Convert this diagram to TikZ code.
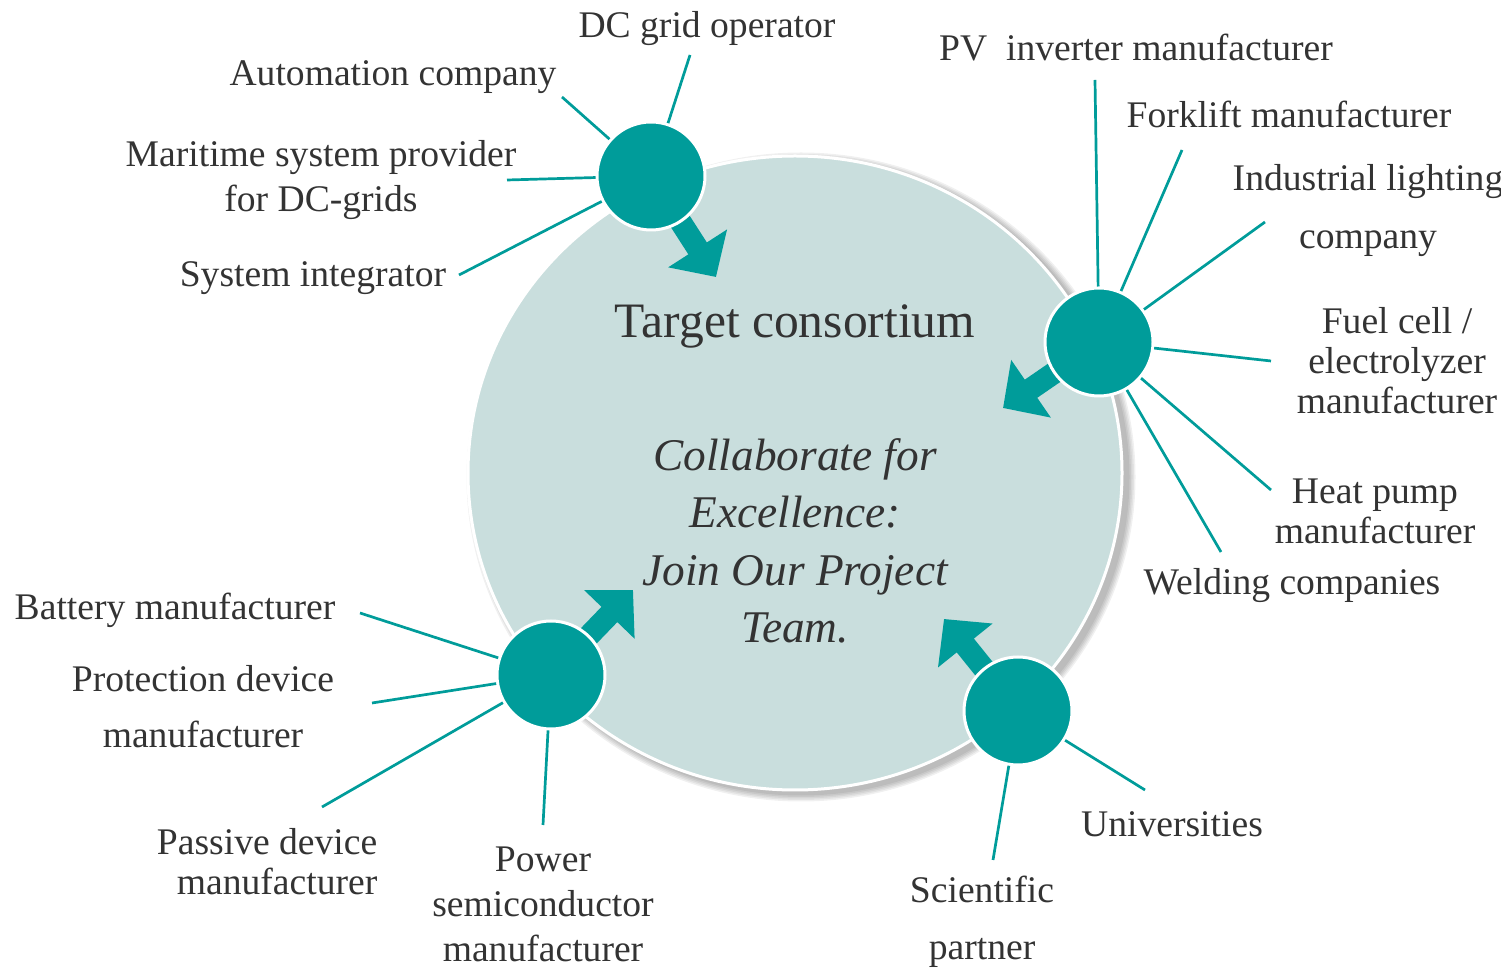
\documentclass[tikz,border=0pt]{standalone}
\usepackage{fontspec}
\setmainfont{Liberation Serif}
\usetikzlibrary{arrows.meta,shapes.geometric}

\definecolor{petrol}{RGB}{0,156,154}
\definecolor{mist}{RGB}{201,222,221}
\definecolor{ink}{RGB}{51,51,51}

\tikzset{
  hub/.style={circle,fill=petrol,draw=white,line width=.3mm,minimum size=10.8mm,inner sep=0pt},
  spoke/.style={draw=petrol,line width=.27mm},
  push/.style={draw=petrol,line width=2.2mm,-{Triangle[length=3.4mm,width=6.8mm]}},
  lbl/.style={text=ink,inner sep=0pt,align=center,font=\fontsize{10.7}{#1}\selectfont},
  lbl/.default=12.8,
}

\begin{document}
\begin{tikzpicture}

        \useasboundingbox (0,0) rectangle (15.01,-9.68);

        % soft shadow under the big disc
        \foreach \k in {1,...,5}
          \fill[black,opacity=.06] (8.01,-4.77) ellipse ({3.27+.015*\k} and {3.17+.015*\k});
        \node (core) at (7.95,-4.73) [ellipse,fill=mist,draw=white,line width=.3mm,
          minimum width=6.54cm,minimum height=6.34cm,inner sep=0pt] {};

        \node (target) at (7.95,-3.26) [text=ink,font=\fontsize{14.1}{17}\selectfont] {Target consortium};
        \node (motto) at (7.95,-5.41) [text=ink,align=center,font=\itshape\fontsize{12.9}{16.3}\selectfont]
          {Collaborate for\\Excellence:\\Join Our Project\\Team.};

        % hub centres and arrow tips
        \coordinate (a) at (6.51,-1.76);
        \coordinate (b) at (10.99,-3.42);
        \coordinate (c) at (5.51,-6.75);
        \coordinate (d) at (10.18,-7.11);
        \coordinate (tipA) at (7.16,-2.77);
        \coordinate (tipB) at (10.03,-4.08);
        \coordinate (tipC) at (6.33,-5.90);
        \coordinate (tipD) at (9.44,-6.19);

        \draw[push] (a) -- (tipA);
        \draw[push] (b) -- (tipB);
        \draw[push] (c) -- (tipC);
        \draw[push] (d) -- (tipD);

        \node[hub] (hubA) at (a) {};
        \node[hub] (hubB) at (b) {};
        \node[hub] (hubC) at (c) {};
        \node[hub] (hubD) at (d) {};

        % free ends of the spokes
        \coordinate (dcEnd) at (6.90,-0.55);
        \coordinate (autoEnd) at (5.62,-0.97);
        \coordinate (mariEnd) at (5.07,-1.80);
        \coordinate (integEnd) at (4.59,-2.75);
        \coordinate (pvEnd) at (10.95,-0.80);
        \coordinate (forkEnd) at (11.82,-1.50);
        \coordinate (lightEnd) at (12.65,-2.22);
        \coordinate (fuelEnd) at (12.71,-3.61);
        \coordinate (heatEnd) at (12.71,-4.90);
        \coordinate (weldEnd) at (12.21,-5.52);
        \coordinate (battEnd) at (3.60,-6.13);
        \coordinate (protEnd) at (3.72,-7.03);
        \coordinate (passEnd) at (3.22,-8.07);
        \coordinate (semiEnd) at (5.43,-8.25);
        \coordinate (uniEnd) at (11.45,-7.90);
        \coordinate (sciEnd) at (9.93,-8.60);

        \begin{scope}[every path/.style={spoke}]
          \draw (hubA) -- (dcEnd);
          \draw (hubA) -- (autoEnd);
          \draw (hubA) -- (mariEnd);
          \draw (hubA) -- (integEnd);
          \draw (hubB) -- (pvEnd);
          \draw (hubB) -- (forkEnd);
          \draw (hubB) -- (lightEnd);
          \draw (hubB) -- (fuelEnd);
          \draw (hubB) -- (heatEnd);
          \draw (hubB) -- (weldEnd);
          \draw (hubC) -- (battEnd);
          \draw (hubC) -- (protEnd);
          \draw (hubC) -- (passEnd);
          \draw (hubC) -- (semiEnd);
          \draw (hubD) -- (uniEnd);
          \draw (hubD) -- (sciEnd);
        \end{scope}

        \node[lbl] (dcgrid) at (7.07,-0.29) {DC grid operator};
        \node[lbl] (automation) at (3.93,-0.77) {Automation company};
        \node[lbl=12.8] (maritime) at (3.21,-1.80) {Maritime system provider\\for DC-grids};
        \node[lbl] (integrator) at (3.13,-2.78) {System integrator};
        \node[lbl] (pvinverter) at (11.36,-0.48) {PV\enspace inverter manufacturer};
        \node[lbl] (forklift) at (12.89,-1.14) {Forklift manufacturer};
        \node[lbl=16.5] (lighting) at (13.68,-2.11) {Industrial lighting\\company};
        \node[lbl=11.4] (fuelcell) at (13.97,-3.61) {Fuel cell /\\electrolyzer\\manufacturer};
        \node[lbl=11.4] (heatpump) at (13.75,-5.11) {Heat pump\\manufacturer};
        \node[lbl] (welding) at (12.92,-5.86) {Welding companies};
        \node[lbl] (battery) at (1.75,-6.10) {Battery manufacturer};
        \node[lbl=16] (protection) at (2.03,-7.07) {Protection device\\manufacturer};
        \node[lbl=11.4,anchor=east,align=right] (passive) at (3.78,-8.62) {Passive device\\manufacturer};
        \node[lbl] (semicond) at (5.43,-9.04) {Power\\semiconductor\\manufacturer};
        \node[lbl] (universities) at (11.72,-8.24) {Universities};
        \node[lbl=16.3] (scientific) at (9.82,-9.22) {Scientific\\partner};

      \end{tikzpicture}
\end{document}
